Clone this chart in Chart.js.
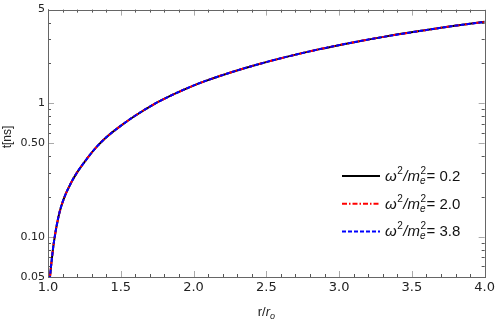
<!DOCTYPE html>
<html>
<head>
<meta charset="utf-8">
<script src="https://cdn.jsdelivr.net/npm/chart.js@4"></script>
<style>
  body { margin: 0; background: #fff; }
  #wrap { width: 498px; height: 325px; position: relative; }
</style>
</head>
<body>
<div id="wrap"><canvas id="chart"></canvas></div>
<script>
// r / r_o sample positions
const rValues = [1.0, 1.0137, 1.0228, 1.041, 1.075, 1.109, 1.155, 1.2, 1.269, 1.337, 1.405, 1.497, 1.588,
  1.724, 1.854, 2.016, 2.13, 2.244, 2.403, 2.631, 2.859, 3.086, 3.315, 3.542, 3.77, 4.0];
// t [ns] for each omega^2/m_e^2 (the three curves lie on top of each other)
const tOmega02 = [0.035, 0.05, 0.063, 0.092, 0.146, 0.193, 0.249, 0.303, 0.385, 0.474, 0.56, 0.672, 0.79,
  0.975, 1.15, 1.375, 1.527, 1.68, 1.895, 2.205, 2.52, 2.83, 3.14, 3.44, 3.75, 4.05];
const tOmega20 = [0.035, 0.05, 0.063, 0.092, 0.146, 0.193, 0.249, 0.303, 0.385, 0.474, 0.56, 0.672, 0.79,
  0.975, 1.15, 1.375, 1.527, 1.68, 1.895, 2.205, 2.52, 2.83, 3.14, 3.44, 3.75, 4.05];
const tOmega38 = [0.035, 0.05, 0.063, 0.092, 0.146, 0.193, 0.249, 0.303, 0.385, 0.474, 0.56, 0.672, 0.79,
  0.975, 1.15, 1.375, 1.527, 1.68, 1.895, 2.205, 2.52, 2.83, 3.14, 3.44, 3.75, 4.05];
const legendValues = ["0.2", "2.0", "3.8"];

const xMajorTicks = [1.0, 1.5, 2.0, 2.5, 3.0, 3.5, 4.0];
const xMinorTicks = [1.1, 1.2, 1.3, 1.4, 1.6, 1.7, 1.8, 1.9, 2.1, 2.2, 2.3, 2.4, 2.6, 2.7, 2.8, 2.9,
  3.1, 3.2, 3.3, 3.4, 3.6, 3.7, 3.8, 3.9];
const yMajorTicks = [0.05, 0.1, 0.5, 1, 5];
const yTickLabels = ["0.05", "0.10", "0.50", "1", "5"];
const yMinorTicks = [0.06, 0.07, 0.08, 0.09, 0.2, 0.3, 0.4, 0.6, 0.7, 0.8, 0.9, 2, 3, 4];

function toPoints(ys) {
  return rValues.map((r, i) => ({ x: r, y: ys[i] }));
}

const seriesStyles = [
  { color: "#000000", dash: [] },
  { color: "#ff0000", dash: [5, 2, 1.5, 2] },
  { color: "#0000ff", dash: [4, 2] }
];

// inward tick marks on all four sides + frame, like the original plot
const framePlugin = {
  id: "frame",
  beforeDatasetsDraw(chart) {
    const ctx = chart.ctx;
    const a = chart.chartArea;
    const xs = chart.scales.x, ys = chart.scales.y;
    ctx.save();
    ctx.lineWidth = 1;
    const tick = (x1, y1, x2, y2) => {
      ctx.beginPath();
      ctx.moveTo(x1, y1);
      ctx.lineTo(x2, y2);
      ctx.stroke();
    };
    ctx.strokeStyle = "#555";
    xMinorTicks.forEach(v => {
      const px = Math.round(xs.getPixelForValue(v)) + 0.5;
      tick(px, a.bottom, px, a.bottom - 3);
      tick(px, a.top, px, a.top + 3);
    });
    yMinorTicks.forEach(v => {
      const py = Math.round(ys.getPixelForValue(v)) + 0.5;
      tick(a.left, py, a.left + 3, py);
      tick(a.right, py, a.right - 3, py);
    });
    ctx.strokeStyle = "#aaa";
    xMajorTicks.forEach(v => {
      const px = Math.round(xs.getPixelForValue(v)) + 0.5;
      tick(px, a.bottom, px, a.bottom - 6);
      tick(px, a.top, px, a.top + 6);
    });
    yMajorTicks.forEach(v => {
      const py = Math.round(ys.getPixelForValue(v)) + 0.5;
      tick(a.left, py, a.left + 6, py);
      tick(a.right, py, a.right - 6, py);
    });
    ctx.strokeStyle = "#666";
    ctx.strokeRect(Math.round(a.left) + 0.5, Math.round(a.top) + 0.5,
      Math.round(a.right - a.left), Math.round(a.bottom - a.top));
    ctx.restore();
  },
  afterDraw(chart) {
    const ctx = chart.ctx;
    const a = chart.chartArea;
    ctx.save();
    ctx.fillStyle = "#222";
    ctx.textBaseline = "alphabetic";

    // x axis title: r/r_o
    const cx = (a.left + a.right) / 2;
    ctx.font = "13px 'Liberation Sans'";
    const w1 = ctx.measureText("r/").width;
    ctx.font = "italic 13px 'Liberation Sans'";
    const w2 = ctx.measureText("r").width;
    ctx.font = "italic 9px 'Liberation Sans'";
    const w3 = ctx.measureText("o").width;
    let x = cx - (w1 + w2 + w3) / 2;
    const by = 316;
    ctx.font = "13px 'Liberation Sans'";
    ctx.fillText("r/", x, by);
    x += w1;
    ctx.font = "italic 13px 'Liberation Sans'";
    ctx.fillText("r", x, by);
    x += w2;
    ctx.font = "italic 9px 'Liberation Sans'";
    ctx.fillText("o", x, by + 3);

    // y axis title: t[ns]
    ctx.save();
    ctx.translate(11, 137);
    ctx.rotate(-Math.PI / 2);
    ctx.font = "12px 'Liberation Sans'";
    ctx.textAlign = "center";
    ctx.fillText("t[ns]", 0, 0);
    ctx.restore();

    // legend
    legendValues.forEach((val, i) => {
      const ly = 176 + i * 27.7;
      const st = seriesStyles[i];
      ctx.strokeStyle = st.color;
      ctx.lineWidth = 2;
      ctx.setLineDash(st.dash);
      ctx.beginPath();
      ctx.moveTo(342, ly);
      ctx.lineTo(380, ly);
      ctx.stroke();
      ctx.setLineDash([]);

      let tx = 385;
      const base = ly + 5;
      ctx.fillStyle = "#111";
      ctx.font = "italic 15px 'Liberation Sans'";
      ctx.fillText("\u03c9", tx, base);
      tx += ctx.measureText("\u03c9").width;
      ctx.font = "10px 'Liberation Sans'";
      ctx.fillText("2", tx + 0.5, base - 7);
      tx += ctx.measureText("2").width + 1;
      ctx.font = "italic 15px 'Liberation Sans'";
      ctx.fillText("/m", tx, base);
      tx += ctx.measureText("/m").width;
      ctx.font = "10px 'Liberation Sans'";
      ctx.fillText("2", tx + 0.5, base - 7);
      ctx.font = "italic 10px 'Liberation Sans'";
      ctx.fillText("e", tx, base + 3);
      tx += ctx.measureText("e").width + 1;
      ctx.font = "15px 'Liberation Sans'";
      ctx.fillText("= " + val, tx, base);
    });
    ctx.restore();
  }
};

new Chart(document.getElementById("chart"), {
  type: "line",
  data: {
    datasets: [tOmega02, tOmega20, tOmega38].map((ys, i) => ({
      label: "\u03c9\u00b2/m\u2091\u00b2= " + legendValues[i],
      data: toPoints(ys),
      borderColor: seriesStyles[i].color,
      borderDash: seriesStyles[i].dash,
      borderWidth: 2,
      pointRadius: 0,
      fill: false,
      order: 2 - i,
      cubicInterpolationMode: "monotone"
    }))
  },
  options: {
    responsive: true,
    maintainAspectRatio: false,
    animation: false,
    layout: { padding: { top: 5, right: 11, left: 0, bottom: 0 } },
    plugins: { legend: { display: false }, tooltip: { enabled: false } },
    scales: {
      x: {
        type: "linear",
        min: 1,
        max: 4,
        afterBuildTicks: s => { s.ticks = xMajorTicks.map(v => ({ value: v })); },
        afterFit: s => { s.height = 48; },
        ticks: {
          autoSkip: false,
          maxRotation: 0,
          padding: 3,
          color: "#222",
          font: { family: "'DejaVu Sans'", size: 13 },
          callback: v => Number(v).toFixed(1)
        },
        grid: { display: true, drawOnChartArea: false, drawTicks: false },
        border: { display: true, color: "#666" }
      },
      y: {
        type: "logarithmic",
        min: 0.05,
        max: 5,
        afterBuildTicks: s => { s.ticks = yMajorTicks.map(v => ({ value: v })); },
        afterFit: s => { s.width = 48; },
        ticks: {
          autoSkip: false,
          padding: 3,
          color: "#222",
          font: { family: "'DejaVu Sans'", size: 11 },
          callback: v => yTickLabels[yMajorTicks.indexOf(v)]
        },
        grid: { display: true, drawOnChartArea: false, drawTicks: false },
        border: { display: true, color: "#666" }
      }
    }
  },
  plugins: [framePlugin]
});
</script>
</body>
</html>
